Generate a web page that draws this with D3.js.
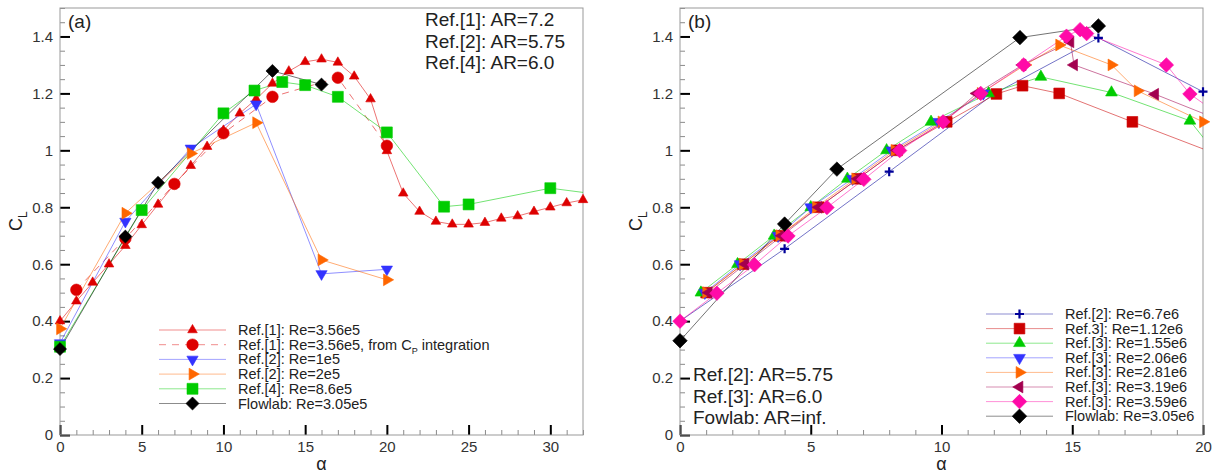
<!DOCTYPE html>
<html>
<head>
<meta charset="utf-8">
<script src="https://cdn.jsdelivr.net/npm/d3@7"></script>
<style>
body { margin: 0; background: #fff; }
text { font-family: "Liberation Sans", Arial, sans-serif; }
</style>
</head>
<body>
<svg id="chart" width="1220" height="475"></svg>
<script>
// ---- panel (a) data ----
const ref1Alpha = [0,1,2,3,4,5,6,7,8,9,10,11,12,13,14,15,16,17,18,19,20,21,22,23,24,25,26,27,28,29,30,31,32];
const ref1CL    = [0.40,0.47,0.536,0.60,0.665,0.738,0.81,0.88,0.946,1.013,1.07,1.13,1.18,1.235,1.278,1.311,1.32,1.309,1.26,1.18,0.998,0.849,0.785,0.75,0.74,0.74,0.746,0.761,0.769,0.785,0.80,0.815,0.826];
const ref1CpAlpha = [1,4,7,10,13,17,20];
const ref1CpCL    = [0.51,0.69,0.882,1.06,1.188,1.255,1.016];
const ref2aAlpha = [0,4,8,12,16,20];
const ref2aCL    = [0.323,0.75,1.007,1.162,0.566,0.582];
const ref2bAlpha = [0,4,8,12,16,20];
const ref2bCL    = [0.373,0.779,0.989,1.097,0.615,0.545];
const ref4Alpha = [0,5,10,11.9,13.6,15,17,20,23.5,25,30,35];
const ref4CL    = [0.31,0.79,1.13,1.21,1.24,1.229,1.188,1.063,0.802,0.81,0.867,0.83];
const flowAAlpha = [0,4,6,13,16];
const flowACL    = [0.302,0.697,0.886,1.279,1.231];

// ---- panel (b) data ----
const r2HiAlpha = [0,4,8,12,16,20];
const r2HiCL    = [0.40,0.654,0.925,1.198,1.395,1.206];
const r3aAlpha = [1.0,2.4,3.8,5.3,6.8,8.3,10.2,12.1,13.1,14.5,17.3,21.0];
const r3aCL    = [0.5,0.6,0.7,0.8,0.9,1.0,1.1,1.198,1.227,1.2,1.1,0.97];
const r3bAlpha = [0.8,2.2,3.6,5.0,6.4,7.9,9.6,11.8,13.8,16.5,19.5,21.0];
const r3bCL    = [0.5,0.6,0.7,0.8,0.9,1.0,1.1,1.2,1.258,1.203,1.104,0.93];
const r3cAlpha = [0.95,2.3,3.75,5.0,6.6,8.1,9.9,11.6];
const r3cCL    = [0.5,0.6,0.7,0.8,0.9,1.0,1.1,1.2];
const r3dAlpha = [1.0,2.4,3.8,5.2,6.7,8.2,10.0,11.5,13.2,14.5,16.5,17.5,20.0];
const r3dCL    = [0.5,0.6,0.7,0.8,0.9,1.0,1.1,1.2,1.3,1.37,1.30,1.209,1.10];
const r3eAlpha = [1.1,2.5,3.9,5.3,6.8,8.3,10.1,11.35,13.1,14.93,15.07,18.17,21.5];
const r3eCL    = [0.5,0.6,0.7,0.8,0.9,1.0,1.1,1.2,1.3,1.381,1.30,1.197,1.075];
const r3fAlpha = [0,1.41,2.85,4.13,5.62,7.03,8.4,10.06,11.5,13.14,14.78,15.3,15.55,18.6,19.5,21.0];
const r3fCL    = [0.4,0.498,0.598,0.699,0.799,0.898,0.999,1.1,1.2,1.3,1.401,1.424,1.41,1.30,1.198,1.10];
const flowBAlpha = [0,4,6,13,16];
const flowBCL    = [0.331,0.741,0.934,1.396,1.437];

const yMajor = [0,0.2,0.4,0.6,0.8,1,1.2,1.4];

const zip = (a, c) => a.map((v, i) => [v, c[i]]);

const seriesA = [
    {label: "Ref.[1]: Re=3.56e5", pts: zip(ref1Alpha, ref1CL), color: "#dd0000", sym: "triUp", size: 40},
    {label: "Ref.[1]: Re=3.56e5, from C", sub: "P", tail: " integration", pts: zip(ref1CpAlpha, ref1CpCL), color: "#dd0000", sym: "circle", size: 105, dash: "7,6"},
    {label: "Ref.[2]: Re=1e5", pts: zip(ref2aAlpha, ref2aCL), color: "#3333ff", sym: "triDown", size: 55},
    {label: "Ref.[2]: Re=2e5", pts: zip(ref2bAlpha, ref2bCL), color: "#ff6600", sym: "triRight", size: 60},
    {label: "Ref.[4]: Re=8.6e5", pts: zip(ref4Alpha, ref4CL), color: "#00cc00", sym: "square", size: 120},
    {label: "Flowlab: Re=3.05e5", pts: zip(flowAAlpha, flowACL), color: "#000000", sym: "diamond", size: 85}
];

const seriesB = [
    {label: "Ref.[2]: Re=6.7e6", pts: zip(r2HiAlpha, r2HiCL), color: "#000099", sym: "plus", size: 9},
    {label: "Ref.3]: Re=1.12e6", pts: zip(r3aAlpha, r3aCL), color: "#cc0000", sym: "square", size: 115},
    {label: "Ref.[3]: Re=1.55e6", pts: zip(r3bAlpha, r3bCL), color: "#00cc00", sym: "triUp", size: 60},
    {label: "Ref.[3]: Re=2.06e6", pts: zip(r3cAlpha, r3cCL), color: "#3333ff", sym: "triDown", size: 60},
    {label: "Ref.[3]: Re=2.81e6", pts: zip(r3dAlpha, r3dCL), color: "#ff6600", sym: "triRight", size: 60},
    {label: "Ref.[3]: Re=3.19e6", pts: zip(r3eAlpha, r3eCL), color: "#a3004f", sym: "triLeft", size: 60},
    {label: "Ref.[3]: Re=3.59e6", pts: zip(r3fAlpha, r3fCL), color: "#ff0aa8", sym: "diamond", size: 105},
    {label: "Flowlab: Re=3.05e6", pts: zip(flowBAlpha, flowBCL), color: "#000000", sym: "diamond", size: 105}
];

const svg = d3.select("#chart");

const markerPath = (sym, size) => {
    if (sym === "plus") return `M${-size/2},0H${size/2}M0,${-size/2}V${size/2}`;
    const type = {triUp: d3.symbolTriangle, triDown: d3.symbolTriangle, triRight: d3.symbolTriangle,
        triLeft: d3.symbolTriangle, circle: d3.symbolCircle, square: d3.symbolSquare, diamond: d3.symbolSquare}[sym];
    return d3.symbol(type, size)();
};
const markerRot = {triUp: 0, triDown: 180, triRight: 90, triLeft: -90, circle: 0, square: 0, diamond: 45, plus: 0};

const drawMarker = (g, s, cx, cy) => {
    const m = g.append("path")
        .attr("d", markerPath(s.sym, s.size))
        .attr("transform", `translate(${cx},${cy}) rotate(${markerRot[s.sym]})`);
    if (s.sym === "plus") {
        m.attr("fill", "none").attr("stroke", s.color).attr("stroke-width", 2.2);
    } else {
        m.attr("fill", s.color).attr("stroke", s.color).attr("stroke-width", 0.6);
    }
};

const drawPanel = (cfg) => {
    const x = d3.scaleLinear().domain([0, cfg.xMax]).range([cfg.left, cfg.right]);
    const y = d3.scaleLinear().domain([0, 1.5]).range([435, 8]);
    const g = svg.append("g");

    g.append("clipPath").attr("id", cfg.id + "clip")
        .append("rect")
        .attr("x", cfg.left).attr("y", 8)
        .attr("width", cfg.right - cfg.left).attr("height", 427);

    // minor ticks
    const minorX = g.append("g").attr("transform", `translate(0,${y(0)})`)
        .call(d3.axisBottom(x).tickValues(d3.range(0, cfg.xMax + 0.5, 1)).tickSize(-5).tickFormat(""));
    const minorY = g.append("g").attr("transform", `translate(${cfg.left},0)`)
        .call(d3.axisLeft(y).tickValues(d3.range(0, 1.501, 0.05)).tickSize(-5).tickFormat(""));
    [minorX, minorY].forEach(a => {
        a.select(".domain").remove();
        a.selectAll("line").attr("stroke", "#8a8a8a").attr("stroke-width", 1);
    });

    // major ticks
    const majorX = g.append("g").attr("transform", `translate(0,${y(0)})`)
        .call(d3.axisBottom(x).tickValues(cfg.xMajor).tickSize(-10).tickPadding(6).tickFormat(d3.format("d")));
    const majorY = g.append("g").attr("transform", `translate(${cfg.left},0)`)
        .call(d3.axisLeft(y).tickValues(yMajor).tickSize(-10).tickPadding(7).tickFormat(d3.format("~g")));
    [majorX, majorY].forEach(a => {
        a.select(".domain").remove();
        a.selectAll("line").attr("stroke", "#000").attr("stroke-width", 2);
        a.selectAll("text").attr("font-size", 15).attr("fill", "#333")
            .style("font-family", '"Liberation Sans", Arial, sans-serif');
    });

    g.append("rect")
        .attr("x", cfg.left).attr("y", 8)
        .attr("width", cfg.right - cfg.left).attr("height", 427)
        .attr("fill", "none").attr("stroke", "#999").attr("stroke-width", 1);

    // lines
    const line = d3.line().x(d => x(d[0])).y(d => y(d[1]));
    g.append("g").attr("clip-path", `url(#${cfg.id}clip)`)
        .selectAll("path")
        .data(cfg.series)
        .join("path")
        .attr("d", d => line(d.pts))
        .attr("fill", "none")
        .attr("stroke", d => d.color)
        .attr("stroke-opacity", 0.55)
        .attr("stroke-width", 1)
        .attr("stroke-dasharray", d => d.dash || null);

    // markers
    cfg.series.forEach(s => {
        const mg = g.append("g");
        s.pts.filter(p => p[0] <= cfg.xMax).forEach(p => drawMarker(mg, s, x(p[0]), y(p[1])));
    });

    // legend
    const lg = g.append("g");
    cfg.series.forEach((s, i) => {
        const ly = cfg.legY + i * cfg.legStep;
        lg.append("line")
            .attr("x1", cfg.legX).attr("x2", cfg.legX + 67)
            .attr("y1", ly).attr("y2", ly)
            .attr("stroke", s.color).attr("stroke-opacity", 0.45)
            .attr("stroke-dasharray", s.dash || null);
        drawMarker(lg, s, cfg.legX + 33.5, ly);
        const t = lg.append("text")
            .attr("x", cfg.legX + 79).attr("y", ly + 5)
            .attr("font-size", 14.5).attr("fill", "#222")
            .text(s.label);
        if (s.sub) {
            t.append("tspan").attr("font-size", 9).attr("dy", 4).text(s.sub);
            t.append("tspan").attr("dy", -4).text(s.tail);
        }
    });

    // axis titles
    g.append("text")
        .attr("x", (cfg.left + cfg.right) / 2).attr("y", 470)
        .attr("text-anchor", "middle").attr("font-size", 18).attr("fill", "#222")
        .text("α");
    const cl = g.append("text")
        .attr("transform", `translate(${cfg.left - 38},231) rotate(-90)`)
        .attr("font-size", 18).attr("fill", "#222")
        .text("C");
    cl.append("tspan").attr("font-size", 12).attr("dy", 5).text("L");

    g.append("text")
        .attr("x", cfg.left + 8).attr("y", 28)
        .attr("font-size", 19).attr("fill", "#222")
        .text(cfg.tag);

    cfg.notes.forEach((n, i) => {
        g.append("text")
            .attr("x", cfg.noteX).attr("y", cfg.noteY + i * 21.5)
            .attr("font-size", 19).attr("fill", "#222")
            .text(n);
    });
};

drawPanel({
    id: "a", left: 60, right: 583, xMax: 32, xMajor: [0,5,10,15,20,25,30],
    series: seriesA, legX: 159, legY: 330, legStep: 14.7,
    tag: "(a)", notes: ["Ref.[1]: AR=7.2", "Ref.[2]: AR=5.75", "Ref.[4]: AR=6.0"],
    noteX: 425, noteY: 26
});

drawPanel({
    id: "b", left: 680, right: 1203, xMax: 20, xMajor: [0,5,10,15,20],
    series: seriesB, legX: 986, legY: 314, legStep: 14.6,
    tag: "(b)", notes: ["Ref.[2]: AR=5.75", "Ref.[3]: AR=6.0", "Fowlab: AR=inf."],
    noteX: 693, noteY: 381
});
</script>
</body>
</html>
